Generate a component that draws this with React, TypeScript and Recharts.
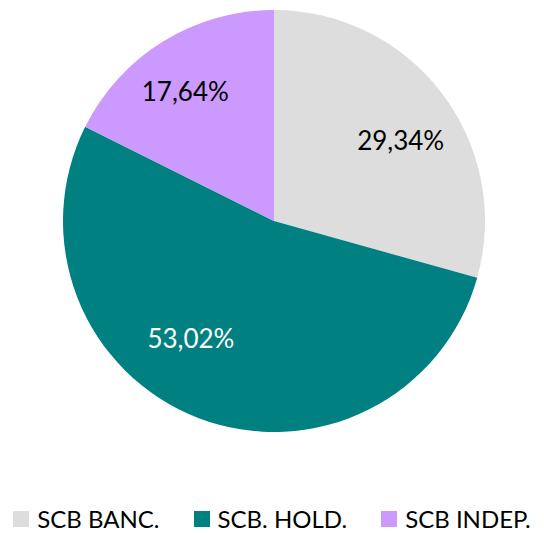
import React from 'react';
import { PieChart, Pie, Cell, Legend } from 'recharts';

const categories = ['SCB BANC.', 'SCB. HOLD.', 'SCB INDEP.'];
const shares = [29.34, 53.02, 17.64];
const colors = ['#dddddd', '#008080', '#cc99ff'];
const labelColors = ['#000000', '#ffffff', '#000000'];
// small "best fit" nudges for the data labels, as placed by the original
const labelNudge = [
  [9, 8],
  [-30, -21],
  [-11, -4],
];

const data = categories.map((name, i) => ({ name, value: shares[i] }));

const FONT = 'Lato, "Open Sans", sans-serif';
const RADIAN = Math.PI / 180;

const renderLabel = (props: any) => {
  const { cx, cy, midAngle, outerRadius, index, value } = props;
  const r = outerRadius * 0.7;
  const x = cx + r * Math.cos(-midAngle * RADIAN) + labelNudge[index][0];
  const y = cy + r * Math.sin(-midAngle * RADIAN) + labelNudge[index][1];
  return (
    <text
      x={x}
      y={y}
      fill={labelColors[index]}
      textAnchor="middle"
      dominantBaseline="central"
      fontSize={26}
      fontFamily={FONT}
    >
      {value.toFixed(2).replace('.', ',')}%
    </text>
  );
};

const renderLegend = () => (
  <div
    style={{
      display: 'flex',
      justifyContent: 'center',
      gap: 34,
      fontFamily: FONT,
      fontSize: 24,
      lineHeight: '28px',
      height: 28,
    }}
  >
    {categories.map((c, i) => (
      <div key={c} style={{ display: 'flex', alignItems: 'center', color: '#000', whiteSpace: 'nowrap' }}>
        <span style={{ width: 16, height: 16, background: colors[i], display: 'inline-block', marginRight: 8 }} />
        {c}
      </div>
    ))}
  </div>
);

export default function App() {
  return (
    <div style={{ position: 'absolute', top: 0, left: 0, width: 544, height: 533, background: '#fff' }}>
      <PieChart width={544} height={533} margin={{ top: 0, right: 0, bottom: 0, left: 0 }}>
        <Pie
          data={data}
          dataKey="value"
          nameKey="name"
          cx={274}
          cy={221}
          outerRadius={211}
          startAngle={90}
          endAngle={-270}
          stroke="none"
          label={renderLabel}
          labelLine={false}
          isAnimationActive={false}
        >
          {data.map((d, i) => (
            <Cell key={d.name} fill={colors[i]} />
          ))}
        </Pie>
        <Legend
          content={renderLegend}
          wrapperStyle={{ top: 505, left: 0, width: 544, height: 28, overflow: 'visible' }}
        />
      </PieChart>
    </div>
  );
}
